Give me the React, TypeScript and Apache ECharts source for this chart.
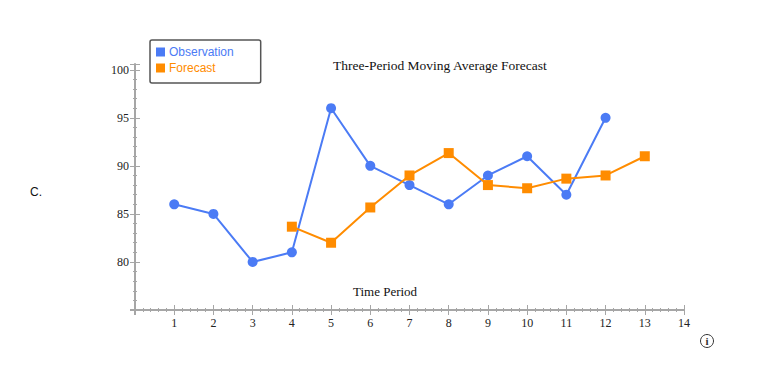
import React, { useEffect, useRef } from "react";
import * as echarts from "echarts";

const periodsObs = [1, 2, 3, 4, 5, 6, 7, 8, 9, 10, 11, 12];
const observation = [86, 85, 80, 81, 96, 90, 88, 86, 89, 91, 87, 95];
const periodsFc = [4, 5, 6, 7, 8, 9, 10, 11, 12, 13];
const forecast = [83.67, 82, 85.67, 89, 91.33, 88, 87.67, 88.67, 89, 91];
const xTickLabels = ["1", "2", "3", "4", "5", "6", "7", "8", "9", "10", "11", "12", "13", "14"];
const yTickLabels = ["80", "85", "90", "95", "100"];

const BLUE = "#4b7bf5";
const ORANGE = "#ff8c00";
const AXIS = "#a6a6a6";
const SERIF = "Liberation Serif, Times New Roman, serif";
const SANS = "Liberation Sans, Arial, sans-serif";

export default function App() {
  const ref = useRef<HTMLDivElement>(null);
  useEffect(() => {
    if (!ref.current) return;
    const chart = echarts.init(ref.current, null, { renderer: "svg" });
    const gridLeft = 135;
    const gridTop = 64;
    const gridBottom = 61;
    const gridRight = 99;
    const xBase = {
      type: "value" as const,
      min: 0,
      max: 14,
      interval: 1,
      position: "bottom" as const,
      splitLine: { show: false },
      minorTick: { show: true, splitNumber: 5, length: 2, lineStyle: { color: AXIS, width: 1 } },
      axisTick: { show: true, length: 5, lineStyle: { color: AXIS, width: 1 } },
    };
    const yBase = {
      type: "value" as const,
      min: 75,
      max: 100.6,
      interval: 5,
      position: "left" as const,
      splitLine: { show: false },
      minorTick: { show: true, splitNumber: 5, length: 2, lineStyle: { color: AXIS, width: 1 } },
      axisTick: { show: true, length: 5, lineStyle: { color: AXIS, width: 1 } },
    };
    chart.setOption({
      animation: false,
      backgroundColor: "#ffffff",
      grid: { left: gridLeft, top: gridTop, bottom: gridBottom, right: gridRight },
      title: {
        text: "Three-Period Moving Average Forecast",
        left: 328,
        top: 53,
        textStyle: { fontFamily: SERIF, fontSize: 13.5, fontWeight: "normal", color: "#111" },
      },
      legend: {
        orient: "vertical",
        left: 150,
        top: 40,
        padding: [6, 27, 9, 6],
        itemGap: 4,
        itemWidth: 9,
        itemHeight: 9,
        borderColor: "#555",
        borderWidth: 1.5,
        borderRadius: 2,
        icon: "rect",
        data: [
          { name: "Observation", textStyle: { color: BLUE } },
          { name: "Forecast", textStyle: { color: ORANGE } },
        ],
        textStyle: { fontFamily: SANS, fontSize: 12, padding: [0, 0, 0, -1] },
      },
      xAxis: [
        {
          ...xBase,
          axisLine: { show: true, lineStyle: { color: AXIS, width: 2 } },
          axisLabel: {
            show: true,
            margin: 7,
            fontFamily: SERIF,
            fontSize: 12,
            color: "#222",
            formatter: (v: number) => (v >= 1 ? xTickLabels[Math.round(v) - 1] ?? "" : ""),
          },
        },
        {
          ...xBase,
          axisLine: { show: false },
          axisLabel: { show: false },
          axisTick: { ...xBase.axisTick, inside: true },
        },
      ],
      yAxis: [
        {
          ...yBase,
          axisLine: { show: true, lineStyle: { color: AXIS, width: 2 } },
          axisLabel: {
            show: true,
            margin: 6,
            fontFamily: SERIF,
            fontSize: 12,
            color: "#222",
            formatter: (v: number) => {
              const i = Math.round((v - 80) / 5);
              return v >= 80 ? yTickLabels[i] ?? "" : "";
            },
          },
        },
        {
          ...yBase,
          axisLine: { show: false },
          axisLabel: { show: false },
          axisTick: { ...yBase.axisTick, inside: true },
        },
      ],
      series: [
        {
          name: "Observation",
          type: "line",
          data: periodsObs.map((p, i) => [p, observation[i]]),
          symbol: "circle",
          symbolSize: 10,
          itemStyle: { color: BLUE },
          lineStyle: { color: BLUE, width: 2 },
          z: 3,
        },
        {
          name: "Forecast",
          type: "line",
          data: periodsFc.map((p, i) => [p, forecast[i]]),
          symbol: "rect",
          symbolSize: 10,
          itemStyle: { color: ORANGE },
          lineStyle: { color: ORANGE, width: 2 },
          z: 4,
        },
      ],
      graphic: [
        {
          type: "line",
          shape: { x1: 130, y1: 310, x2: 136, y2: 310 },
          style: { stroke: AXIS, lineWidth: 2 },
        },
        {
          type: "line",
          shape: { x1: 135, y1: 309, x2: 135, y2: 315 },
          style: { stroke: AXIS, lineWidth: 2 },
        },
        {
          type: "text",
          x: 385,
          y: 291,
          style: {
            text: "Time Period",
            fontFamily: SERIF,
            fontSize: 13,
            fill: "#111",
            align: "center",
            verticalAlign: "middle",
          },
        },
        {
          type: "text",
          x: 30,
          y: 192,
          style: {
            text: "C.",
            fontFamily: SANS,
            fontSize: 12,
            fill: "#111",
            align: "left",
            verticalAlign: "middle",
          },
        },
        {
          type: "circle",
          shape: { cx: 707, cy: 341, r: 6.5 },
          style: { fill: "#fff", stroke: "#333", lineWidth: 1 },
        },
        {
          type: "text",
          x: 707,
          y: 341,
          style: {
            text: "i",
            fontFamily: SERIF,
            fontSize: 11,
            fontWeight: "bold",
            fill: "#333",
            align: "center",
            verticalAlign: "middle",
          },
        },
      ],
    });
    return () => chart.dispose();
  }, []);
  return (
    <div
      ref={ref}
      style={{ position: "fixed", left: 0, top: 0, width: 783, height: 371 }}
    />
  );
}
